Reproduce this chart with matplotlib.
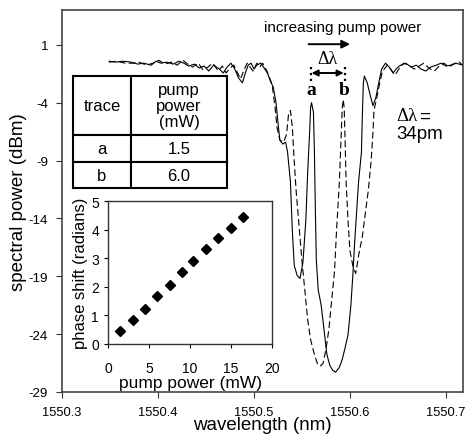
import matplotlib
matplotlib.use("Agg")
import matplotlib.pyplot as plt

plt.rcParams["font.family"] = ["Liberation Sans", "DejaVu Sans"]
plt.rcParams["axes.unicode_minus"] = False  # guion simple como en el original

# ── trace a (solid) ──────────────────────────────────────────────────────────
wl_a = [1550.349, 1550.356, 1550.364, 1550.372, 1550.379, 1550.385, 1550.393, 1550.398,
        1550.403, 1550.409, 1550.416, 1550.422, 1550.427, 1550.432, 1550.438, 1550.443,
        1550.448, 1550.453, 1550.458, 1550.464, 1550.468, 1550.472, 1550.476, 1550.480,
        1550.484, 1550.488, 1550.491, 1550.494, 1550.497, 1550.500, 1550.503, 1550.507,
        1550.510, 1550.514, 1550.517, 1550.520, 1550.523, 1550.525, 1550.527, 1550.530,
        1550.533, 1550.535, 1550.538, 1550.540, 1550.542, 1550.545, 1550.548, 1550.551,
        1550.554, 1550.556, 1550.558, 1550.559, 1550.560, 1550.562, 1550.563, 1550.564,
        1550.565, 1550.567, 1550.570, 1550.573, 1550.576, 1550.579, 1550.582, 1550.585,
        1550.589, 1550.592, 1550.595, 1550.598, 1550.601, 1550.603, 1550.605, 1550.607,
        1550.609, 1550.612, 1550.613, 1550.614, 1550.615, 1550.618, 1550.621, 1550.624,
        1550.627, 1550.630, 1550.633, 1550.637, 1550.641, 1550.645, 1550.649, 1550.653,
        1550.658, 1550.664, 1550.669, 1550.674, 1550.679, 1550.684, 1550.690, 1550.695,
        1550.700, 1550.705, 1550.710, 1550.718]
dbm_a = [-0.42, -0.50, -0.42, -0.50, -0.67, -0.59, -0.76, -0.42,
         -0.59, -0.50, -0.67, -0.42, -0.59, -0.84, -0.67, -1.01,
         -0.84, -1.27, -0.76, -1.10, -1.44, -0.93, -0.59, -1.10,
         -1.87, -2.29, -1.44, -0.76, -0.59, -1.10, -0.76, -0.59,
         -0.93, -1.44, -2.12, -2.63, -4.00, -5.71, -7.24, -7.58,
         -7.41, -8.27, -10.83, -15.09, -18.08, -18.93, -19.19, -17.82,
         -14.24, -9.97, -6.56, -4.43, -4.00, -4.85, -8.27, -13.39,
         -17.65, -20.21, -21.49, -23.62, -25.76, -26.70, -27.12, -27.29,
         -26.87, -26.18, -25.16, -24.05, -21.49, -18.93, -15.95, -13.39,
         -10.83, -8.27, -4.85, -2.29, -1.70, -2.29, -3.32, -4.26,
         -3.57, -2.29, -1.10, -0.59, -0.93, -1.44, -1.01, -0.76,
         -0.59, -0.93, -0.76, -1.10, -1.27, -0.93, -0.76, -0.59,
         -0.84, -0.76, -0.59, -0.76]

# ── trace b (dashed) ─────────────────────────────────────────────────────────
wl_b = [1550.349, 1550.357, 1550.366, 1550.374, 1550.380, 1550.388, 1550.395, 1550.401,
        1550.407, 1550.414, 1550.420, 1550.426, 1550.431, 1550.436, 1550.442, 1550.447,
        1550.452, 1550.457, 1550.463, 1550.467, 1550.471, 1550.475, 1550.479, 1550.483,
        1550.486, 1550.490, 1550.493, 1550.496, 1550.499, 1550.503, 1550.506, 1550.509,
        1550.513, 1550.516, 1550.519, 1550.522, 1550.524, 1550.527, 1550.531, 1550.534,
        1550.536, 1550.538, 1550.540, 1550.542, 1550.544, 1550.547, 1550.550, 1550.553,
        1550.556, 1550.559, 1550.563, 1550.566, 1550.569, 1550.572, 1550.575, 1550.578,
        1550.581, 1550.584, 1550.586, 1550.589, 1550.591, 1550.592, 1550.593, 1550.594,
        1550.595, 1550.596, 1550.598, 1550.600, 1550.603, 1550.606, 1550.609, 1550.613,
        1550.616, 1550.619, 1550.622, 1550.624, 1550.625, 1550.628, 1550.631, 1550.634,
        1550.639, 1550.643, 1550.647, 1550.651, 1550.656, 1550.661, 1550.667, 1550.672,
        1550.677, 1550.682, 1550.688, 1550.693, 1550.698, 1550.703, 1550.708, 1550.714,
        1550.718]
dbm_b = [-0.50, -0.42, -0.59, -0.59, -0.50, -0.76, -0.59, -0.34,
         -0.67, -0.50, -0.76, -0.34, -0.67, -0.93, -0.59, -1.18,
         -0.93, -0.59, -1.27, -0.84, -1.44, -1.01, -0.76, -1.44,
         -1.95, -1.10, -0.59, -0.93, -1.27, -0.59, -0.93, -0.59,
         -1.18, -1.78, -2.46, -4.43, -6.13, -7.24, -7.41, -6.73,
         -5.02, -4.68, -6.13, -9.12, -11.68, -14.67, -17.65, -20.21,
         -22.77, -24.48, -25.76, -26.53, -26.78, -26.53, -25.33, -23.62,
         -21.06, -18.51, -15.09, -10.83, -6.56, -4.43, -3.73, -4.43,
         -7.41, -10.83, -14.24, -16.80, -18.08, -18.76, -17.23, -15.52,
         -13.56, -11.68, -9.12, -6.56, -4.68, -3.57, -2.29, -1.27,
         -0.76, -1.18, -1.61, -1.10, -0.59, -0.76, -1.10, -0.84,
         -0.59, -1.01, -1.27, -0.84, -0.59, -0.93, -0.67, -0.50,
         -0.84]

# ── inset: phase shift vs pump power ─────────────────────────────────────────
pump_mw = [1.5, 3.0, 4.5, 6.0, 7.5, 9.0, 10.4, 11.9, 13.4, 15.0, 16.5]
phase_rad = [0.47, 0.85, 1.22, 1.69, 2.07, 2.51, 2.91, 3.32, 3.71, 4.06, 4.44]

# ── tabla ────────────────────────────────────────────────────────────────────
table_header = ["trace", "pump\npower\n(mW)"]
table_traces = ["a", "b"]
table_pump = ["1.5", "6.0"]

x_ticks = [1550.3, 1550.4, 1550.5, 1550.6, 1550.7]
x_labels = ["1550.3", "1550.4", "1550.5", "1550.6", "1550.7"]
y_ticks = [1, -4, -9, -14, -19, -24, -29]

SERIF = ["Liberation Serif", "DejaVu Serif"]

fig = plt.figure(figsize=(4.66, 4.35), dpi=100, facecolor="white")
ax = fig.add_axes([0.133, 0.0966, 0.861, 0.878])

ax.plot(wl_a, dbm_a, color="black", lw=0.8)
ax.plot(wl_b, dbm_b, color="black", lw=0.8, dashes=(6, 3))

ax.set_xlim(1550.3, 1550.718)
ax.set_ylim(-29, 4)
ax.set_xticks(x_ticks, x_labels)
ax.set_yticks(y_ticks)
ax.tick_params(direction="out", length=4, labelsize=9.6, pad=6, color="#333333")
ax.tick_params(axis="x", labelsize=9.3)
for s in ax.spines.values():
    s.set_color("#444444")
    s.set_linewidth(1.2)
ax.set_xlabel("wavelength (nm)", fontsize=13.5)
ax.xaxis.set_label_coords(0.5, -0.064)
ax.set_ylabel("spectral power (dBm)", fontsize=13.5)
ax.yaxis.set_label_coords(-0.087, 0.5)

# Anotaciones
ax.annotate("", xy=(1550.603, 1.05), xytext=(1550.554, 1.05),
            arrowprops=dict(arrowstyle="-|>", color="black", lw=1.4, mutation_scale=12))
ax.text(1550.592, 2.23, "increasing pump power", ha="center", va="baseline", fontsize=11)
ax.text(1550.577, -0.59, "Δλ", ha="center", va="baseline", fontsize=13, family=SERIF)
ax.annotate("", xy=(1550.5600, -1.44), xytext=(1550.5935, -1.44),
            arrowprops=dict(arrowstyle="<|-|>", color="black", lw=1.4,
                            mutation_scale=9, shrinkA=0, shrinkB=0))
ax.vlines([1550.5594, 1550.5948], -2.1, -0.7, colors="black", linestyles=":", lw=1.6)
ax.text(1550.5595, -3.23, "a", ha="center", va="baseline", fontsize=14,
        fontweight="bold", family=SERIF)
ax.text(1550.5935, -3.23, "b", ha="center", va="baseline", fontsize=14,
        fontweight="bold", family=SERIF)
ax.text(1550.648, -5.54, "Δλ", ha="left", va="baseline", fontsize=13.5, family=SERIF)
ax.text(1550.672, -5.54, "=", ha="left", va="baseline", fontsize=13.5)
ax.text(1550.648, -7.07, "34pm", ha="left", va="baseline", fontsize=13.5)

# Tabla
cell_text = [table_header] + [[t, p] for t, p in zip(table_traces, table_pump)]
tbl = ax.table(cellText=cell_text, cellLoc="center", colWidths=[58, 96],
               bbox=[0.0274, 0.534, 0.384, 0.293])
tbl.auto_set_font_size(False)
tbl.set_fontsize(12)
row_h = [59, 27, 26]
for (r, c), cell in tbl.get_celld().items():
    cell.set_height(row_h[r])
    cell.set_linewidth(1.5)
    cell.set_edgecolor("black")
    cell.get_text().set_linespacing(1.05)

# Inset
ins = fig.add_axes([0.2318, 0.2069, 0.352, 0.3287])
ins.plot(pump_mw, phase_rad, "D", color="black", ms=5)
ins.set_xlim(0, 20)
ins.set_ylim(0, 5)
ins.set_xticks([0, 5, 10, 15, 20])
ins.set_yticks([0, 1, 2, 3, 4, 5])
ins.tick_params(direction="out", length=3, labelsize=10, pad=3.5)
ins.tick_params(axis="x", pad=9)
for s in ins.spines.values():
    s.set_color("#333333")
    s.set_linewidth(1.0)
ins.set_xlabel("pump power (mW)", fontsize=12.5, labelpad=0)
ins.set_ylabel("phase shift (radians)", fontsize=12)
ins.yaxis.set_label_coords(-0.12, 0.5)

fig.savefig("out.png", dpi=100, facecolor="white")
plt.close(fig)
